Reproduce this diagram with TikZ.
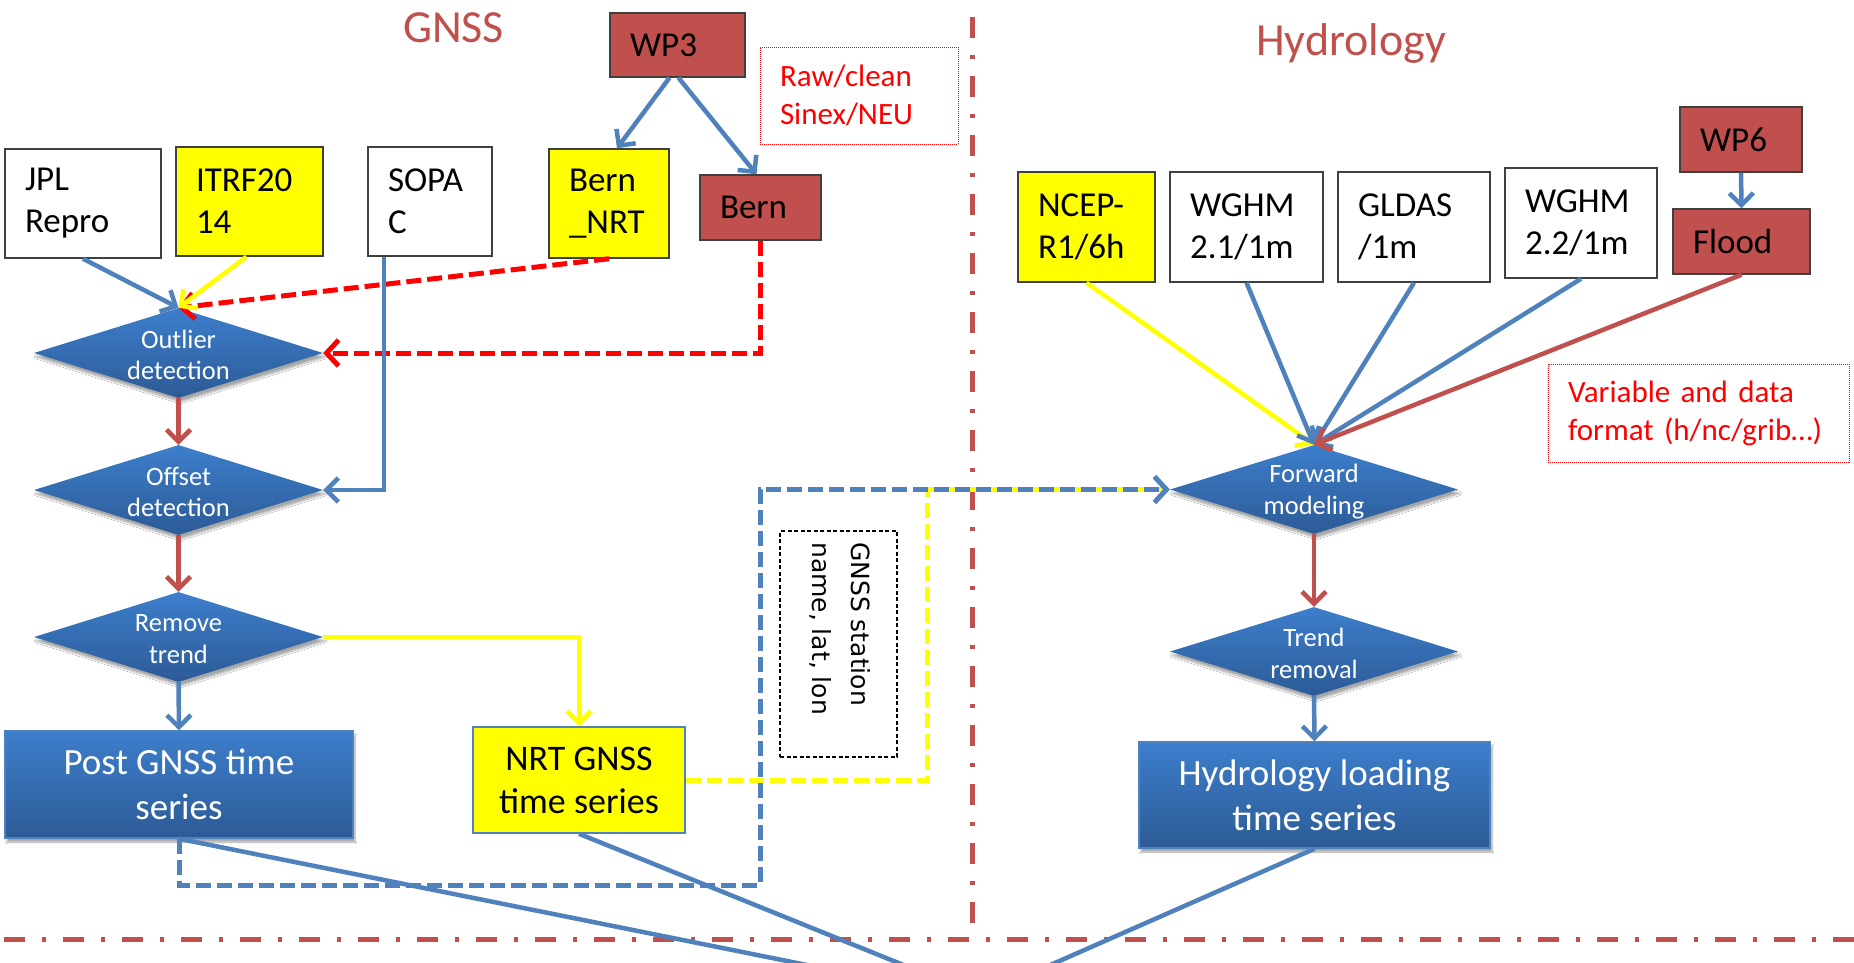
\documentclass[tikz,border=0pt]{standalone}
\usepackage{fontspec}
\setmainfont{Carlito}
\newfontfamily\dejavu{DejaVu Sans}
\usetikzlibrary{arrows.meta,shapes.geometric,shadows.blur}
\definecolor{obrown}{HTML}{C0504D}
\definecolor{oblue}{HTML}{4F81BD}
\definecolor{gtop}{HTML}{3D7ECC}
\definecolor{gbot}{HTML}{2C5B96}
\definecolor{yel}{HTML}{FFFF00}
\definecolor{redd}{HTML}{FF0000}
\tikzset{
  inbox/.style={rectangle, draw=black!75, line width=1.5pt, inner xsep=20pt, inner ysep=0pt, align=left, font=\fontsize{35}{42}\selectfont, text=black},
  note/.style={rectangle, draw=redd, line width=1pt, dash pattern=on 1pt off 1pt, inner xsep=20pt, inner ysep=0pt, align=left, text=redd, font=\fontsize{31}{38}\selectfont},
  dia/.style={diamond, minimum width=289pt, minimum height=90pt, inner sep=0pt, top color=gtop, bottom color=gbot, draw=none, blur shadow={shadow xshift=2pt, shadow yshift=-4pt, shadow opacity=35, shadow blur steps=6}},
  diatext/.style={text=white, align=center, font=\fontsize{26.5}{31.5}\selectfont, inner sep=0pt},
  bluebox/.style={rectangle, top color=gtop, bottom color=gbot, draw=oblue, line width=1.5pt, text=white, align=center, font=\fontsize{37}{45}\selectfont, blur shadow={shadow xshift=2pt, shadow yshift=-4pt, shadow opacity=35, shadow blur steps=6}},
  title/.style={text=obrown, font=\fontsize{46}{55}\selectfont, anchor=base, inner sep=0pt},
  conn/.style={line width=4.5pt, -{Straight Barb[length=12pt,width=24pt]}},
  plainline/.style={line width=4.5pt, draw=oblue},
  rdash/.style={line width=5pt, draw=redd, dash pattern=on 15pt off 6pt, -{Straight Barb[length=12pt,width=26pt]}},
  bdash/.style={line width=5pt, draw=oblue, dash pattern=on 15pt off 6pt, -{Straight Barb[length=12pt,width=26pt]}},
  ydash/.style={line width=5pt, draw=yel, dash pattern=on 15pt off 6pt},
  dashdot/.style={draw=obrown, line width=5pt, dash pattern=on 21pt off 17pt on 4pt off 17pt},
}
\begin{document}
\begin{tikzpicture}[x=1pt,y=-1pt]
\fill[white] (0,0) rectangle (1854,962);
\useasboundingbox (0,0) rectangle (1854,962);

% dividers
\draw[dashdot] (972,17) -- (972,939);
\draw[dashdot] (4,939) -- (1854,939);

% titles
\node[title] (tg) at (453.5,42) {GNSS};
\node[title] (th) at (1351,55) {Hydrology};

% GNSS side boxes
\node[inbox, fill=obrown, text width=95pt, minimum height=64pt] (wp3) at (677.5,45) {WP3};
\node[note, text width=158pt, minimum height=97pt] (raw) at (859,95.5) {Raw/clean\\Sinex/NEU};
\node[inbox, fill=white, text width=116pt, minimum height=109pt] (jpl) at (83,203.5) {JPL\\Repro};
\node[inbox, fill=yel, text width=107pt, minimum height=109pt] (itrf) at (249.5,201.5) {ITRF20\\14};
\node[inbox, fill=white, text width=84pt, minimum height=109pt] (sopac) at (430,201.5) {SOPA\\C};
\node[inbox, fill=yel, text width=80pt, minimum height=109pt] (bnrt) at (609,203.5) {Bern\\\_NRT};
\node[inbox, fill=obrown, text width=81pt, minimum height=65pt] (bern) at (760.5,207.5) {Bern};

% Hydrology side boxes
\node[inbox, fill=yel, text width=97pt, minimum height=110pt] (ncep) at (1086.5,227) {NCEP-\\R1/6h};
\node[inbox, fill=white, text width=113pt, minimum height=110pt] (w21) at (1246.5,227) {WGHM\\2.1/1m};
\node[inbox, fill=white, text width=112pt, minimum height=110pt] (gld) at (1414,227) {GLDAS\\/1m};
\node[inbox, fill=white, text width=112pt, minimum height=110pt] (w22) at (1581,223) {WGHM\\2.2/1m};
\node[inbox, fill=obrown, text width=82pt, minimum height=65pt] (wp6) at (1741,139.5) {WP6};
\node[inbox, fill=obrown, text width=97pt, minimum height=65pt] (flood) at (1741.5,241.5) {Flood};
\node[note, text width=261pt, minimum height=98pt] (var) at (1698.5,413) {Variable~and~data\\format~(h/nc/grib…)};

% diamonds
\node[dia] (outl) at (178.5,353) {};
\node[diatext] (outlt) at ([yshift=-2pt]outl.center) {Outlier\\detection};
\node[dia] (offs) at (178.5,490) {};
\node[diatext] (offst) at ([yshift=-2pt]offs.center) {Offset\\detection};
\node[dia] (remv) at (178.5,637) {};
\node[diatext] (remvt) at ([yshift=-2pt]remv.center) {Remove\\trend};
\node[dia, minimum width=288pt, minimum height=89pt] (fwd) at (1314,489.5) {};
\node[diatext] (fwdt) at ([yshift=-2pt]fwd.center) {Forward\\modeling};
\node[dia, minimum width=288pt, minimum height=89pt] (trnd) at (1314,651.5) {};
\node[diatext] (trndt) at ([yshift=-2pt]trnd.center) {Trend\\removal};

% output boxes
\node[bluebox, minimum width=348pt, minimum height=107pt] (post) at (179,784.5) {Post GNSS time\\series};
\node[rectangle, fill=yel, draw=oblue, line width=1.5pt, minimum width=212pt, minimum height=106pt, align=center, font=\fontsize{36}{43}\selectfont] (nrt) at (579,780) {NRT GNSS\\time series};
\node[bluebox, minimum width=351pt, minimum height=106pt] (hyd) at (1314.5,795) {Hydrology loading\\time series};

% station box
\node[draw=black, line width=1.5pt, dash pattern=on 4pt off 2.5pt, minimum width=117pt, minimum height=226pt, inner sep=0pt] (stb) at (838.5,644) {};
\node[rotate=-90, anchor=north west, inner sep=0pt, align=left, font=\dejavu\fontsize{25}{39}\selectfont] (stt) at (871,542) {GNSS station\\name, lat, lon};

% off-page ends
\coordinate (bl) at (760,885);
\coordinate (o1) at (812,966);
\coordinate (o2) at (906,966);
\coordinate (o3) at (1048,966);

% dashed links
\draw[ydash] (nrt.east) -- ++(242,0) |- (fwd.west);
\draw[bdash] (post.south) |- (bl) |- (fwd.west);
\draw[rdash] (bnrt.south) -- (outl.north);
\draw[rdash] (bern.south) |- (outl.east);

% solid connectors GNSS
\draw[conn, oblue] ([xshift=-8pt]wp3.south) -- ([xshift=8pt]bnrt.north);
\draw[conn, oblue] ([xshift=1pt]wp3.south) -- ([xshift=-4pt]bern.north);
\draw[conn, oblue] (jpl.south) -- (outl.north);
\draw[conn, yel] ([xshift=-3pt]itrf.south) -- (outl.north);
\draw[conn, oblue] ([xshift=-46pt]sopac.south) |- (offs.east);
\draw[conn, obrown] (outl.south) -- (offs.north);
\draw[conn, obrown] (offs.south) -- (remv.north);
\draw[conn, oblue] (remv.south) -- (post.north);
\draw[conn, yel] (remv.east) -| (nrt.north);

% solid connectors Hydrology
\draw[conn, yel] (ncep.south) -- (fwd.north);
\draw[conn, oblue] (w21.south) -- (fwd.north);
\draw[conn, oblue] (gld.south) -- (fwd.north);
\draw[conn, oblue] (w22.south) -- (fwd.north);
\draw[conn, obrown] (flood.south) -- (fwd.north);
\draw[conn, oblue] (wp6.south) -- (flood.north);
\draw[conn, obrown] (fwd.south) -- (trnd.north);
\draw[conn, oblue] (trnd.south) -- (hyd.north);

% lines leaving the picture
\draw[plainline] (post.south) -- (o1);
\draw[plainline] (nrt.south) -- (o2);
\draw[plainline] (hyd.south) -- (o3);
\end{tikzpicture}
\end{document}
